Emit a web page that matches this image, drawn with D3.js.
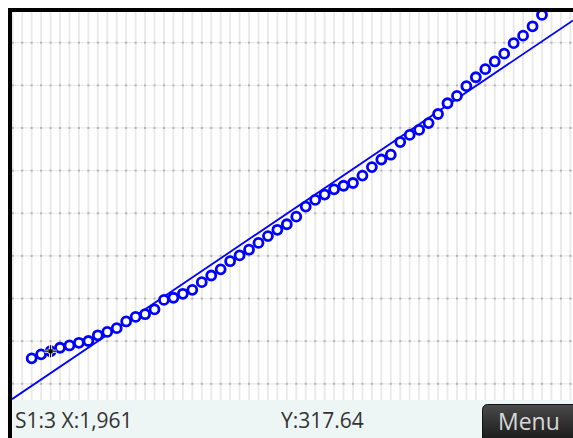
<!DOCTYPE html>
<html>
<head>
<meta charset="utf-8">
<script src="https://cdn.jsdelivr.net/npm/d3@7"></script>
<style>
  html, body { margin: 0; padding: 0; background: #fff; }
  svg { display: block; }
</style>
</head>
<body>
<div id="chart"></div>
<script>
(function(d3) {
'use strict';

// Mauna Loa annual mean CO2 (ppm)
var years = d3.range(1959, 2014);
var co2 = [315.97, 316.91, 317.64, 318.45, 318.99, 319.62, 320.04, 321.38, 322.16, 323.04,
  324.62, 325.68, 326.32, 327.45, 329.68, 330.18, 331.11, 332.04, 333.83, 335.40,
  336.84, 338.75, 340.11, 341.45, 343.05, 344.65, 346.12, 347.42, 349.19, 351.57,
  353.12, 354.39, 355.61, 356.45, 357.10, 358.83, 360.82, 362.61, 363.73, 366.70,
  368.38, 369.55, 371.14, 373.28, 375.80, 377.52, 379.80, 381.90, 383.79, 385.60,
  387.43, 389.90, 391.65, 393.85, 396.52];
var xDomain = [1956.92, 2016.28];
var yDomain = [306.2, 397.2];
var yGrid = [310, 320, 330, 340, 350, 360, 370, 380, 390];
var cursorIndex = 2;
var statusLeft = 'S1:3 X:1,961';
var statusRight = 'Y:317.64';

var width = 573;
var height = 438;
var plot = {left: 12, top: 12, right: 573, bottom: 400};

var svg = d3.select('#chart')
  .append('svg')
  .attr('width', width)
  .attr('height', height);

var x = d3.scaleLinear().domain(xDomain).range([plot.left, plot.right]);
var y = d3.scaleLinear().domain(yDomain).range([plot.bottom, plot.top]);

svg.append('defs').append('clipPath')
  .attr('id', 'clip')
  .append('rect')
  .attr('x', plot.left).attr('y', plot.top)
  .attr('width', plot.right - plot.left).attr('height', plot.bottom - plot.top);

var g = svg.append('g').attr('clip-path', 'url(#clip)');

// grid: one line per year, dotted lines every 10 ppm
var gridYears = d3.range(Math.ceil(xDomain[0]), Math.floor(xDomain[1]) + 1);
g.selectAll('.vgrid')
  .data(gridYears)
  .enter()
  .append('line')
  .attr('x1', function(d) { return x(d); })
  .attr('x2', function(d) { return x(d); })
  .attr('y1', plot.top).attr('y2', plot.bottom)
  .attr('stroke', '#e9e9e9')
  .attr('stroke-width', 1.8);

g.selectAll('.hgrid')
  .data(yGrid)
  .enter()
  .append('line')
  .attr('x1', plot.left).attr('x2', plot.right)
  .attr('y1', function(d) { return y(d); })
  .attr('y2', function(d) { return y(d); })
  .attr('stroke', '#e9e9e9')
  .attr('stroke-width', 1.2);

var dots = [];
yGrid.forEach(function(v) {
  gridYears.forEach(function(yr) { dots.push([yr, v]); });
});
g.selectAll('.gdot')
  .data(dots)
  .enter()
  .append('rect')
  .attr('x', function(d) { return x(d[0]) - 1; })
  .attr('y', function(d) { return y(d[1]) - 1; })
  .attr('width', 2).attr('height', 2)
  .attr('fill', '#b4b4b4');

// least squares line
var mx = d3.mean(years), my = d3.mean(co2);
var sxy = d3.sum(years, function(d, i) { return (d - mx) * (co2[i] - my); });
var sxx = d3.sum(years, function(d) { return (d - mx) * (d - mx); });
var slope = sxy / sxx;
var icept = my - slope * mx;

g.append('line')
  .attr('x1', x(xDomain[0])).attr('y1', y(icept + slope * xDomain[0]))
  .attr('x2', x(xDomain[1])).attr('y2', y(icept + slope * xDomain[1]))
  .attr('stroke', '#0000ff')
  .attr('stroke-width', 1.8);

g.selectAll('.pt')
  .data(years)
  .enter()
  .append('circle')
  .attr('cx', function(d) { return x(d); })
  .attr('cy', function(d, i) { return y(co2[i]); })
  .attr('r', 4.5)
  .attr('fill', '#fff')
  .attr('stroke', '#0000ff')
  .attr('stroke-width', 2.8);

// trace cursor
var cx = x(years[cursorIndex]), cy = y(co2[cursorIndex]);
var cur = g.append('g').attr('transform', 'translate(' + cx + ',' + cy + ')');
cur.append('path')
  .attr('d', 'M-6,0H6M0,-6V6')
  .attr('stroke', '#fff').attr('stroke-width', 3);
cur.append('path')
  .attr('d', 'M-6,0H6M0,-6V6M-2,-2L2,2M-2,2L2,-2')
  .attr('stroke', '#000').attr('stroke-width', 1.2);

// frame
svg.append('rect').attr('x', 8).attr('y', 8).attr('width', width - 8).attr('height', 4).attr('fill', '#000');
svg.append('rect').attr('x', 8).attr('y', 8).attr('width', 4).attr('height', height - 8).attr('fill', '#000');

// status bar
svg.append('rect')
  .attr('x', plot.left).attr('y', plot.bottom)
  .attr('width', width - plot.left).attr('height', height - plot.bottom)
  .attr('fill', '#eef6f5');

svg.append('text')
  .attr('x', 15).attr('y', 428)
  .attr('font-family', 'Open Sans, sans-serif')
  .attr('font-size', 21)
  .attr('fill', '#333')
  .text(statusLeft);

svg.append('text')
  .attr('x', 281).attr('y', 428)
  .attr('font-family', 'Open Sans, sans-serif')
  .attr('font-size', 21)
  .attr('fill', '#333')
  .text(statusRight);

var grad = svg.select('defs').append('linearGradient')
  .attr('id', 'btn').attr('x1', 0).attr('y1', 0).attr('x2', 0).attr('y2', 1);
grad.append('stop').attr('offset', '0%').attr('stop-color', '#4a4a4a');
grad.append('stop').attr('offset', '100%').attr('stop-color', '#141414');

svg.append('rect')
  .attr('x', 482.5).attr('y', 404.5)
  .attr('width', 100).attr('height', 40)
  .attr('rx', 5)
  .attr('fill', 'url(#btn)')
  .attr('stroke', '#111');

svg.append('text')
  .attr('x', 498).attr('y', 430)
  .attr('font-family', 'Open Sans, sans-serif')
  .attr('font-size', 23)
  .attr('fill', '#d8d8d8')
  .text('Menu');

})(window.d3);
</script>
</body>
</html>
